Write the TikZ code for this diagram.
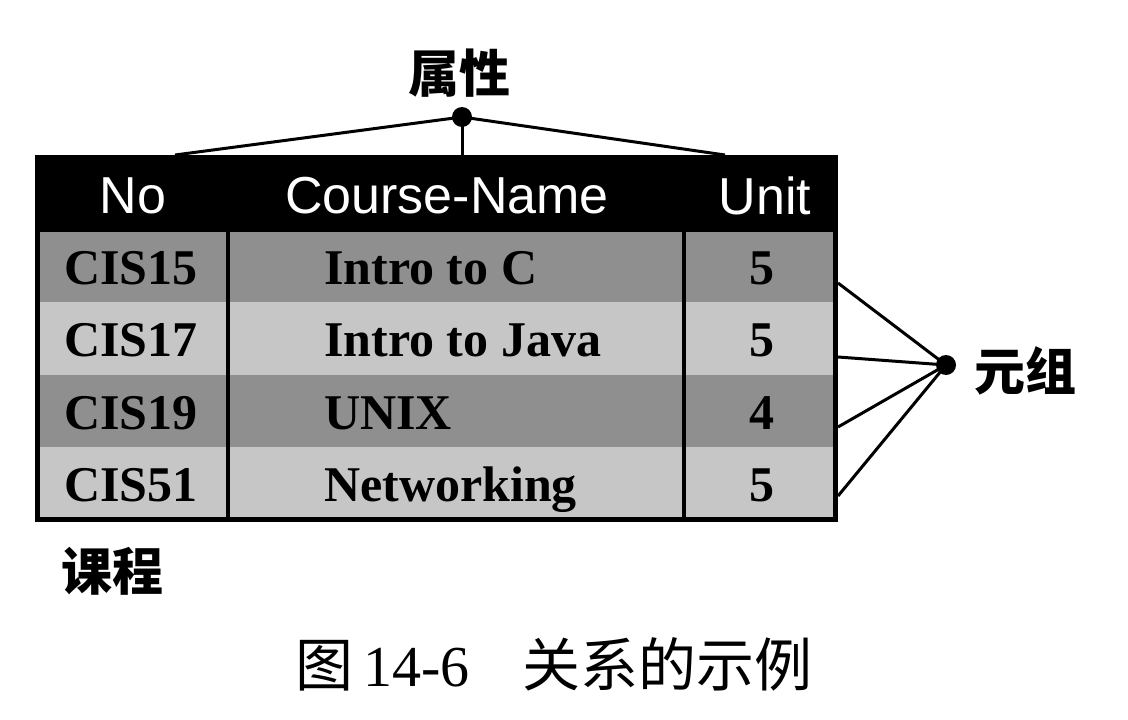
\documentclass[tikz,border=0pt]{standalone}
\usepackage{fontspec}
\setmainfont{Liberation Serif}
\newfontfamily\hdrfont{Liberation Sans}
\newfontfamily\cjk{Noto Sans CJK SC}
\definecolor{rowdark}{HTML}{8F8F8F}
\definecolor{rowlight}{HTML}{C6C6C6}
\tikzset{
  hdrtext/.style={text=white, font=\hdrfont\fontsize{52}{56}\selectfont, inner sep=0pt},
  celltext/.style={font=\bfseries\fontsize{50}{54}\selectfont, inner sep=0pt, anchor=base},
  cjklabel/.style={font=\cjk\bfseries\fontsize{51}{55}\selectfont, inner sep=0pt},
  conn/.style={line width=3pt},
  dotnode/.style={circle, fill=black, minimum size=20pt, inner sep=0pt},
}
\begin{document}
\begin{tikzpicture}[x=1pt,y=-1pt]
\useasboundingbox (0,0) rectangle (1128,720);
% rows
\fill[rowdark]  (38,230) rectangle (836,302);
\fill[rowlight] (38,302) rectangle (836,375);
\fill[rowdark]  (38,375) rectangle (836,447);
\fill[rowlight] (38,447) rectangle (836,520);
% header
\fill[black] (35,155) rectangle (838,232);
% borders
\draw[line width=5pt] (37.5,230) -- (37.5,519.5) -- (835.5,519.5) -- (835.5,230);
\draw[line width=4pt] (228,230) -- (228,519);
\draw[line width=4pt] (684,230) -- (684,519);
% header texts
\node[hdrtext] (hNo) at (133,196) {No};
\node[hdrtext] (hCN) at (447,196) {Course-Name};
\node[hdrtext] (hU) at (765,196) {Unit};
% cells
\foreach \y/\no/\cn/\u [count=\i] in {284/CIS15/Intro to C/5, 356.5/CIS17/Intro to Java/5, 429/CIS19/UNIX/4, 501.5/CIS51/Networking/5}{
  \node[celltext] (no\i) at (131,\y) {\no};
  \node[celltext, anchor=base west] (cn\i) at (324,\y) {\cn};
  \node[celltext] (u\i) at (762,\y) {\u};
}
% attribute connector
\node[dotnode] (attr) at (462,117) {};
\node[cjklabel] (attrlbl) at (459,73) {属性};
\coordinate (aL) at (175,155);
\coordinate (aM) at (462,155);
\coordinate (aR) at (725,155);
\draw[conn] (aL) -- (attr.center) -- (aR);
\draw[conn] (attr.center) -- (aM);
% tuple connector
\node[dotnode] (tup) at (946,365) {};
\node[cjklabel] (tuplbl) at (1025,371) {元组};
\coordinate (t1) at (838,283);
\coordinate (t2) at (838,357);
\coordinate (t3) at (838,427);
\coordinate (t4) at (838,496);
\foreach \t in {t1,t2,t3,t4} \draw[conn] (\t) -- (tup.center);
% table label
\node[cjklabel] (tbl) at (112,571) {课程};
% caption
\node[inner sep=0pt, font=\fontsize{58}{62}\selectfont] (cap) at (554,664) {{\cjk 图}\,14-6\hspace{0.9em}{\cjk 关系的示例}};
\end{tikzpicture}
\end{document}
